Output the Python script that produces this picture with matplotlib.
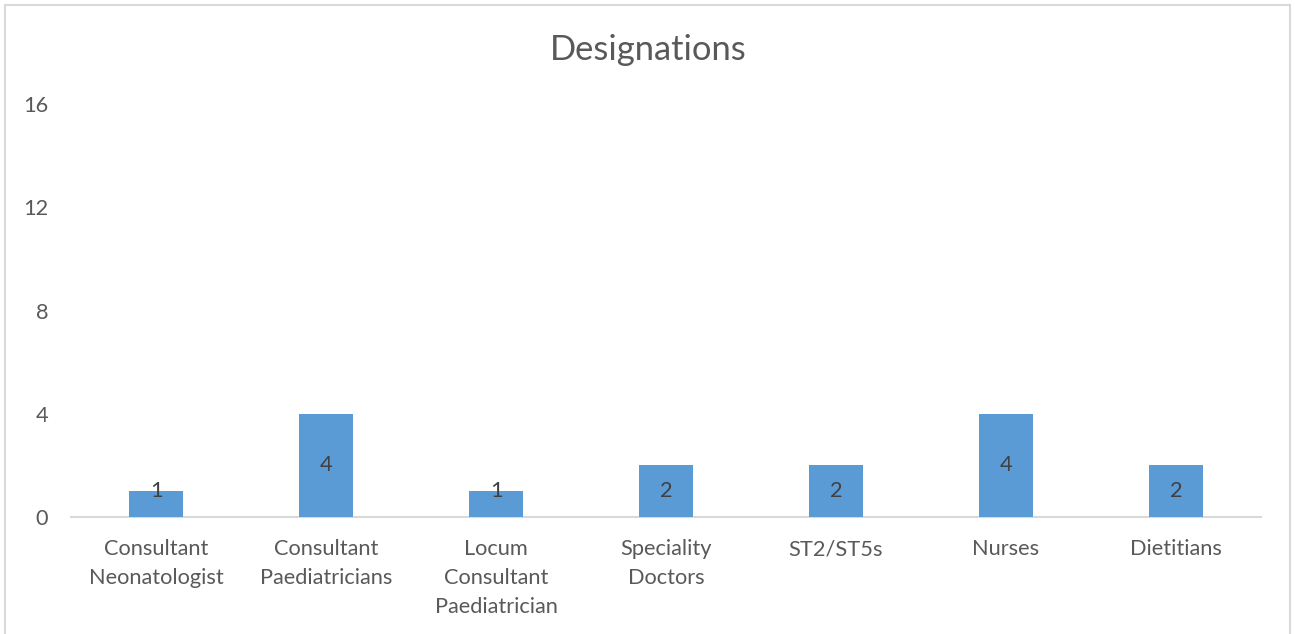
import matplotlib
matplotlib.use("Agg")
import matplotlib.pyplot as plt
from matplotlib.patches import Rectangle

categories = ["Consultant\nNeonatologist", "Consultant\nPaediatricians",
              "Locum\nConsultant\nPaediatrician", "Speciality\nDoctors",
              "ST2/ST5s", "Nurses", "Dietitians"]
values = [1, 4, 1, 2, 2, 4, 2]
yticks = [0, 4, 8, 12, 16]
title = "Designations"

plt.rcParams['font.family'] = ['Lato', 'DejaVu Sans']
W, H = 1295, 634
fig = plt.figure(figsize=(W / 100, H / 100), dpi=100)
fig.patch.set_facecolor("white")

# chart border
fig.add_artist(Rectangle((5 / W, -0.05), 1285 / W, 1.05 - 5 / H, transform=fig.transFigure,
                         fill=False, edgecolor="#d9d9d9", linewidth=1.5))

ax = fig.add_axes([71 / W, 1 - 517 / H, (1261 - 71) / W, (517 - 104) / H])
x = list(range(len(categories)))
ax.bar(x, values, width=0.315, color="#5B9BD5", zorder=3)
ax.set_xlim(-0.5, len(categories) - 0.5)
ax.set_ylim(0, 16)
ax.set_yticks(yticks)
ax.set_yticklabels([str(t) for t in yticks])
ax.set_xticks(x)
ax.set_xticklabels(categories, linespacing=1.56)
for s in ["top", "right", "left"]:
    ax.spines[s].set_visible(False)
ax.spines["bottom"].set_color("#d9d9d9")
ax.spines["bottom"].set_linewidth(1.5)
ax.tick_params(axis="both", length=0, colors="#595959", labelsize=15.7)
ax.tick_params(axis="x", pad=16)
ax.tick_params(axis="y", pad=16.5)

for xi, v in zip(x, values):
    ax.text(xi, max(v / 2, 1.0), str(v), ha="center", va="center",
            fontsize=15.7, color="#404040", zorder=4)

fig.text(648 / W, 1 - 50 / H, title, ha="center", va="center", fontsize=24.8, color="#595959")

fig.savefig("out.png", dpi=100)
